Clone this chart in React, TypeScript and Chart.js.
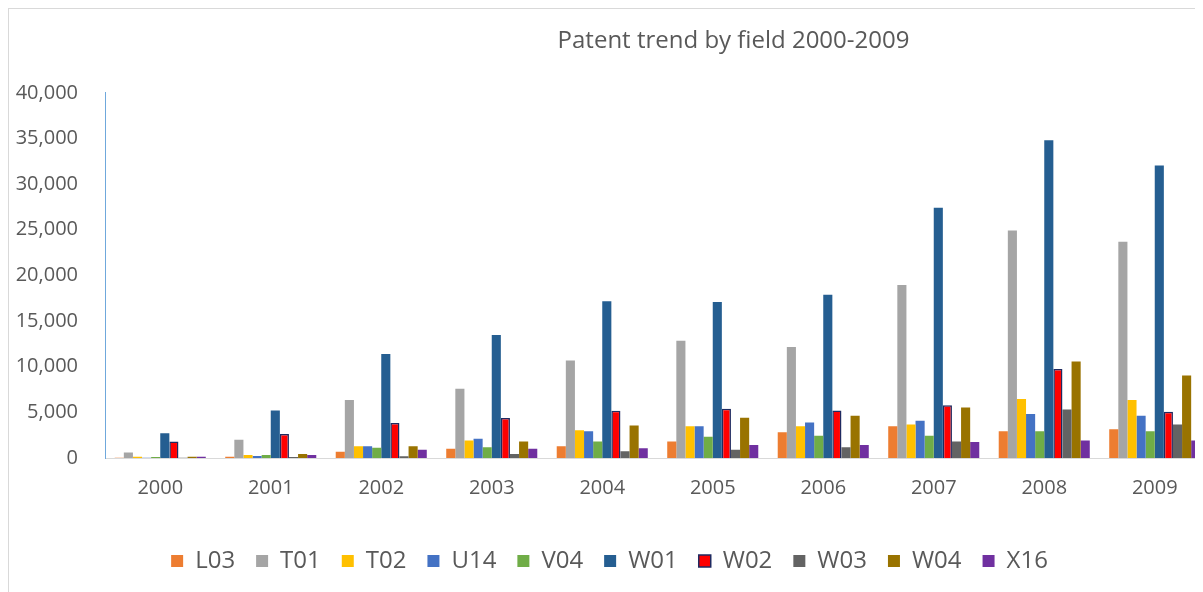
import React, { useEffect, useRef } from "react";
import { Chart, registerables } from "chart.js";

Chart.register(...registerables);

const categories = ["2000", "2001", "2002", "2003", "2004", "2005", "2006", "2007", "2008", "2009"];

const L03 = [40, 150, 690, 1000, 1290, 1800, 2830, 3490, 2940, 3160];
const T01 = [590, 1990, 6340, 7580, 10690, 12850, 12160, 18960, 24920, 23680];
const T02 = [130, 340, 1290, 1910, 3050, 3490, 3470, 3670, 6450, 6340];
const U14 = [40, 230, 1290, 2100, 2940, 3490, 3880, 4070, 4810, 4620];
const V04 = [100, 340, 1110, 1180, 1800, 2320, 2430, 2430, 2940, 2940];
const W01 = [2720, 5200, 11390, 13480, 17160, 17090, 17890, 27400, 34810, 32040];
const W02 = [1800, 2620, 3820, 4370, 5170, 5390, 5200, 5790, 9740, 5060];
const W03 = [40, 120, 200, 450, 740, 890, 1180, 1800, 5320, 3670];
const W04 = [130, 450, 1290, 1800, 3560, 4400, 4620, 5540, 10570, 9040];
const X16 = [130, 340, 890, 1000, 1070, 1430, 1430, 1740, 1910, 1910];

const seriesNames = ["L03", "T01", "T02", "U14", "V04", "W01", "W02", "W03", "W04", "X16"];
const seriesValues = [L03, T01, T02, U14, V04, W01, W02, W03, W04, X16];
const seriesColors = ["#ED7D31", "#A5A5A5", "#FFC000", "#4472C4", "#70AD47", "#255E91", "#FF0000", "#636363", "#997300", "#7030A0"];

const yTicks = [0, 5000, 10000, 15000, 20000, 25000, 30000, 35000, 40000];

const titleShift = {
  id: "titleShift",
  afterLayout(chart: any) {
    const tb = chart.titleBlock;
    if (tb) {
      tb.left += 124;
      tb.right += 124;
    }
  },
};

export default function App() {
  const ref = useRef<HTMLCanvasElement | null>(null);

  useEffect(() => {
    if (!ref.current) return;
    const font = "'Open Sans', 'Noto Sans', sans-serif";
    const chart = new Chart(ref.current, {
      type: "bar",
      data: {
        labels: categories,
        datasets: seriesNames.map((name, i) => ({
          label: name,
          data: seriesValues[i],
          backgroundColor: seriesColors[i],
          borderColor: name === "W02" ? "#1F2A60" : seriesColors[i],
          borderWidth: name === "W02" ? 1.5 : 0,
          categoryPercentage: 0.824,
          barPercentage: 1.0,
        })),
      },
      options: {
        responsive: false,
        animation: false,
        layout: { padding: { left: 0, right: 0, top: 0, bottom: 9 } },
        plugins: {
          title: {
            display: true,
            text: "Patent trend by field 2000-2009",
            color: "#595959",
            font: { family: font, size: 24, weight: "normal" },
            padding: { top: 18, bottom: 37 },
          },
          legend: {
            display: true,
            position: "bottom",
            labels: {
              color: "#595959",
              font: { family: font, size: 24 },
              boxWidth: 12,
              boxHeight: 12,
              padding: 21,
            },
          },
          tooltip: { enabled: false },
        },
        scales: {
          x: {
            grid: { display: false, drawTicks: false },
            border: { display: true, color: "#D9D9D9", width: 1 },
            ticks: {
              color: "#595959",
              font: { family: font, size: 20 },
              padding: 18,
              maxRotation: 0,
            },
            afterFit: (scale: any) => {
              scale.height = 70;
            },
          },
          y: {
            min: 0,
            max: 40000,
            grid: { display: false, drawTicks: false },
            border: { display: true, color: "#6FA8DC", width: 1 },
            afterBuildTicks: (scale: any) => {
              scale.ticks = yTicks.map((v) => ({ value: v }));
            },
            ticks: {
              color: "#595959",
              font: { family: font, size: 20 },
              padding: 27,
              callback: (v: any) => Number(v).toLocaleString("en-US"),
            },
            afterFit: (scale: any) => {
              scale.width = 96;
            },
          },
        },
      },
      plugins: [titleShift],
    });
    return () => chart.destroy();
  }, []);

  return (
    <div
      style={{
        width: 1195,
        height: 584,
        boxSizing: "border-box",
        borderLeft: "1px solid #D9D9D9",
        borderTop: "1px solid #D9D9D9",
        overflow: "hidden",
        background: "#FFFFFF",
      }}
    >
      <canvas ref={ref} width={1201} height={583} style={{ display: "block", width: 1201, height: 583 }} />
    </div>
  );
}
